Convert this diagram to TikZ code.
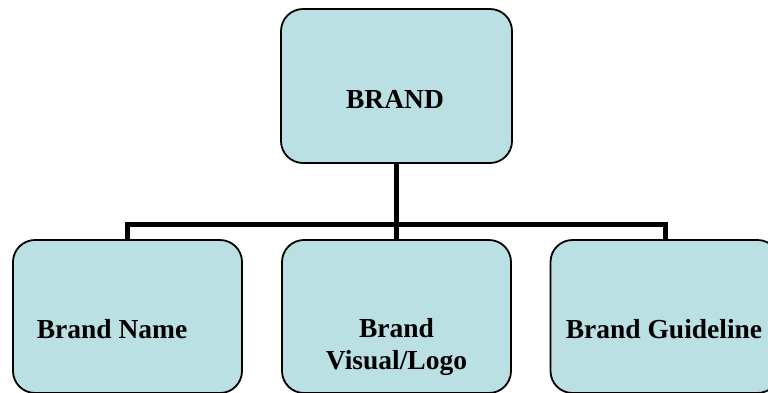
\documentclass[tikz,border=0pt]{standalone}
\usepackage{fontspec}
\setmainfont{Liberation Serif}
\definecolor{boxfill}{HTML}{BBE0E3}
\begin{document}
\begin{tikzpicture}[x=1pt,y=-1pt,
  box/.style={draw=black,line width=1.8pt,fill=boxfill,rounded corners=22pt,
    rectangle,minimum width=229pt,minimum height=153pt,inner sep=0pt},
  lbl/.style={font=\bfseries\fontsize{27.5}{32}\selectfont,align=center,anchor=base,inner sep=0pt},
  conn/.style={line width=5pt,draw=black}]
\useasboundingbox (0,0) rectangle (768,392);
\clip (0,0) rectangle (768,392);
\node[box,minimum width=231pt,minimum height=154pt] (top) at (396.5,86) {};
\node[box] (bl) at (127.5,316.5) {};
\node[box] (bm) at (396.5,316.5) {};
\node[box] (br) at (665,316.5) {};
\coordinate (j) at (396.5,224);
\draw[conn] (top.south) -- (top.south |- j);
\draw[conn] (bl.north) -- (bl.north |- j) -- (br.north |- j) -- (br.north);
\draw[conn] (bm.north) -- (bm.north |- j);
\node[lbl] (tTop) at (395,108) {BRAND};
\node[lbl] (tL) at (112,338) {Brand Name};
\node[lbl,anchor=north] (tM) at (396.5,318) {Brand\\Visual/Logo};
\node[lbl] (tR) at (664,338) {Brand Guideline};
\end{tikzpicture}
\end{document}
